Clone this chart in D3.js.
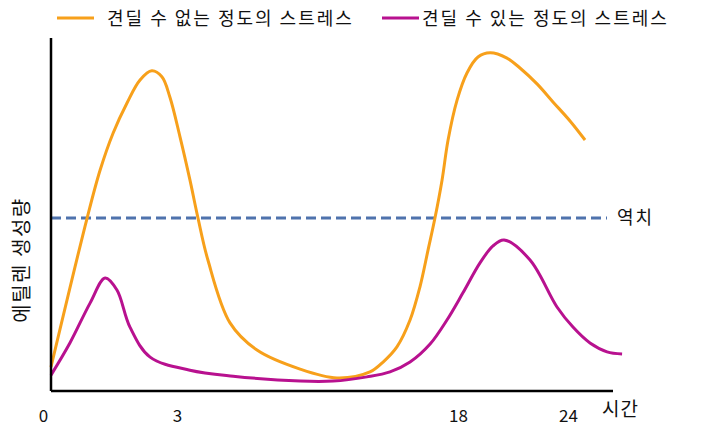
<!DOCTYPE html>
<html>
<head>
<meta charset="utf-8">
<script src="https://cdn.jsdelivr.net/npm/d3@7"></script>
<style>
  body { margin: 0; background: #fff; }
  text { font-family: "Noto Sans CJK KR", "Noto Sans", sans-serif; fill: #111; }
</style>
</head>
<body>
<div id="main"></div>
<script>
// Sizes
var svgWidth = 712;
var svgHeight = 432;

// Data (time in hours, ethylene level in arbitrary units)
var legendLabels = ['견딜 수 없는 정도의 스트레스', '견딜 수 있는 정도의 스트레스'];
var tickHours = [0, 3, 18, 24];
var thresholdValue = 4.9;

var severeHours = [0, 0.86, 1.17, 1.48, 1.81, 2.12, 2.4, 2.64, 2.83, 3.16, 3.69, 4.12, 4.65, 5.83, 7.27, 9.57, 11.54, 13.3, 14.0, 14.74, 15.44, 15.97, 16.4, 16.77, 17.15, 17.47, 17.95, 18.49, 19.09, 19.75, 20.67, 21.38, 22.31, 23.18, 24.11, 24.93];
var severeLevels = [0.68, 4.9, 6.26, 7.31, 8.16, 8.81, 9.07, 8.9, 8.33, 7.2, 5.98, 4.9, 3.71, 1.93, 1.16, 0.62, 0.37, 0.54, 0.82, 1.25, 2.01, 2.95, 3.99, 4.9, 5.98, 7.11, 8.24, 9.01, 9.46, 9.58, 9.43, 9.15, 8.7, 8.19, 7.65, 7.11];

var mildHours = [0, 0.45, 0.93, 1.29, 1.57, 1.88, 2.36, 3.69, 6.0, 9.57, 11.33, 13.14, 14.37, 15.44, 16.51, 17.41, 18.27, 19.2, 19.91, 20.51, 21.93, 23.4, 24.27, 25.2, 26.13, 26.95];
var mildLevels = [0.45, 1.36, 2.49, 3.2, 2.86, 1.81, 0.96, 0.59, 0.42, 0.28, 0.28, 0.4, 0.54, 0.82, 1.33, 2.01, 2.78, 3.63, 4.11, 4.28, 3.71, 2.38, 1.81, 1.36, 1.11, 1.05];

var colors = ['#f7a01b', '#b8118f'];

// Scales: the time axis is not evenly spaced, so use a piecewise scale
var xScale = d3.scaleLinear().domain(tickHours).range([51, 177, 458, 568]);
var yScale = d3.scaleLinear().domain([0, 10]).range([391, 38]);

var svg = d3.select('#main')
  .append('svg')
  .attr('width', svgWidth)
  .attr('height', svgHeight);

var series = [
  severeHours.map(function(h, i) { return [h, severeLevels[i]]; }),
  mildHours.map(function(h, i) { return [h, mildLevels[i]]; })
];

var line = d3.line()
  .x(function(d) { return xScale(d[0]); })
  .y(function(d) { return yScale(d[1]); })
  .curve(d3.curveCatmullRom.alpha(0.5));

// threshold line
svg.append('line')
  .attr('x1', xScale(0)).attr('x2', 607)
  .attr('y1', yScale(thresholdValue)).attr('y2', yScale(thresholdValue))
  .attr('stroke', '#4f73ad')
  .attr('stroke-width', 3)
  .attr('stroke-dasharray', '10,5');

svg.append('text')
  .attr('x', 617)
  .attr('y', yScale(thresholdValue) + 6)
  .style('font-size', '18px')
  .style('letter-spacing', '2px')
  .text('역치');

// curves
svg.selectAll('.curve')
  .data(series)
  .enter()
  .append('path')
  .attr('class', 'curve')
  .attr('fill', 'none')
  .attr('stroke', function(d, i) { return colors[i]; })
  .attr('stroke-width', 3)
  .attr('d', line);

// axes
var xAxis = d3.axisBottom(xScale)
  .tickValues(tickHours)
  .tickSize(0)
  .tickPadding(19);

var xg = svg.append('g')
  .attr('transform', 'translate(0,' + yScale(0) + ')')
  .call(xAxis);
xg.select('.domain').attr('d', 'M51,0H613').attr('stroke', '#000').attr('stroke-width', 2.5);
xg.selectAll('.tick text')
  .style('font-size', '17px')
  .style('font-family', '"Noto Sans CJK KR", sans-serif')
  .attr('fill', '#111')
  .attr('dx', function(d) { return d === 0 ? -8 : 0; });

svg.append('line')
  .attr('x1', 51).attr('x2', 51)
  .attr('y1', 38).attr('y2', yScale(0))
  .attr('stroke', '#000')
  .attr('stroke-width', 2.5);

svg.append('text')
  .attr('x', 602)
  .attr('y', 416)
  .style('font-size', '19px')
  .style('letter-spacing', '1px')
  .text('시간');

svg.append('text')
  .attr('transform', 'translate(29,260) rotate(-90)')
  .attr('text-anchor', 'middle')
  .style('font-size', '20px')
  .style('letter-spacing', '1.5px')
  .text('에틸렌 생성량');

// legend
var legendX = [57, 382];
var legend = svg.selectAll('.legend')
  .data(legendLabels)
  .enter()
  .append('g')
  .attr('class', 'legend')
  .attr('transform', function(d, i) { return 'translate(' + legendX[i] + ',18)'; });

legend.append('line')
  .attr('x1', 0).attr('x2', 37)
  .attr('y1', 0).attr('y2', 0)
  .attr('stroke', function(d, i) { return colors[i]; })
  .attr('stroke-width', 3);

legend.append('text')
  .attr('x', function(d, i) { return i === 0 ? 50 : 40; })
  .attr('y', 7)
  .style('font-size', '18px')
  .style('letter-spacing', '2px')
  .text(function(d) { return d; });
</script>
</body>
</html>
